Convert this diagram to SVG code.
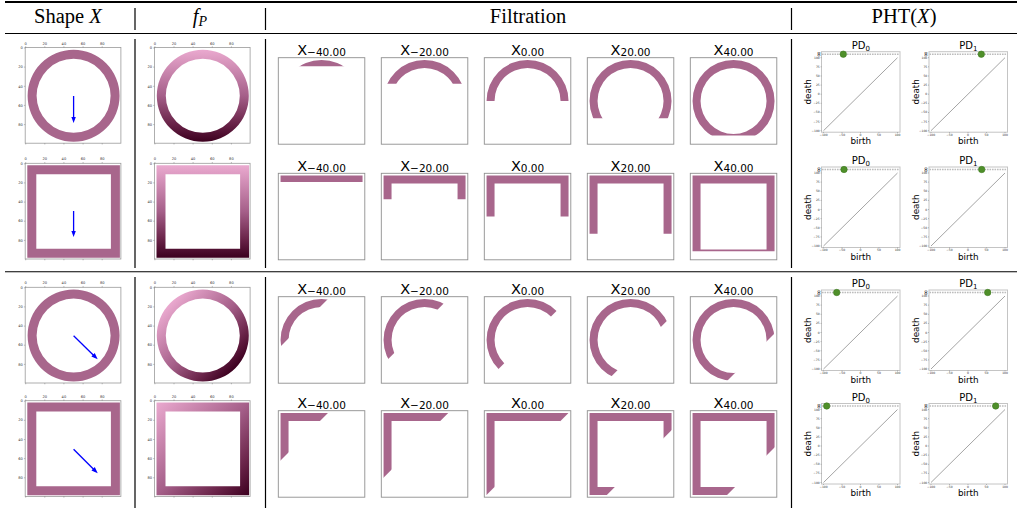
<svg xmlns="http://www.w3.org/2000/svg" xmlns:xlink="http://www.w3.org/1999/xlink" width="1019" height="508" viewBox="0 0 1019 508">
<style>
text{font-family:"DejaVu Sans","Liberation Sans",sans-serif;fill:#000}
.hdr{font-family:"Liberation Serif","DejaVu Serif",serif;font-size:20.5px;text-anchor:middle}
.it{font-style:italic}
.rule{stroke:#000;fill:none}
.ax{fill:#fff;stroke:#9a9a9a;stroke-width:0.8}
.tk{stroke:#666;stroke-width:0.4;fill:none}
.tl{font-size:3.6px;fill:#333;text-anchor:middle}
.tlr{font-size:3.6px;fill:#333;text-anchor:end}
.shape{fill:#a8668c}
.fb{fill:#fff;stroke:#8f8f8f;stroke-width:0.9}
.ft{font-size:14.5px;text-anchor:middle}
.fs{font-size:10.5px}
.pdbox{fill:#fff;stroke:#c4c4c4;stroke-width:1}
.inf{stroke:#bdbdbd;stroke-width:1.4;stroke-dasharray:1.6 0.9}
.diag{stroke:#666;stroke-width:0.6}
.pt{fill:#4f8f2a;stroke:#3d7a1e;stroke-width:0.6}
.pdt{font-size:10px;text-anchor:middle}
.pds{font-size:7px}
.lab{font-size:8.8px;text-anchor:middle}
.pyl{font-size:3px;fill:#333;text-anchor:end}
.pxl{font-size:3px;fill:#333;text-anchor:middle}
.infl{font-size:7px;text-anchor:middle}
.arr{stroke:#0000ff;stroke-width:1.3;fill:none;marker-end:url(#ah)}
</style>
<defs>
<marker id="ah" markerUnits="userSpaceOnUse" markerWidth="7" markerHeight="6" refX="3.5" refY="3" orient="auto"><path d="M0,0.6 L6.5,3 L0,5.4 Z" fill="#0000ff"/></marker>
<path id="annF" fill-rule="evenodd" d="M-41,0a41,41 0 1,0 82,0a41,41 0 1,0 -82,0ZM-33,0a33,33 0 1,0 66,0a33,33 0 1,0 -66,0Z"/>
<path id="sqF" fill-rule="evenodd" d="M-41,-41H41V41H-41ZM-33,-33H33V33H-33Z"/>
<path id="annL" fill-rule="evenodd" d="M-46,0a46,46 0 1,0 92,0a46,46 0 1,0 -92,0ZM-37,0a37,37 0 1,0 74,0a37,37 0 1,0 -74,0Z"/>
<path id="sqL" fill-rule="evenodd" d="M-46.3,-46.3H46.3V46.3H-46.3ZM-37.3,-37.3H37.3V37.3H-37.3Z"/>
<linearGradient id="cm"><stop offset="0" stop-color="#eaa9cf"/><stop offset="0.5" stop-color="#a55f89"/><stop offset="0.8" stop-color="#6a2449"/><stop offset="1" stop-color="#3c001f"/></linearGradient>
<linearGradient id="gV" href="#cm" xlink:href="#cm" gradientUnits="userSpaceOnUse" x1="0" y1="-46" x2="0" y2="46"/>
<linearGradient id="gDc" href="#cm" xlink:href="#cm" gradientUnits="userSpaceOnUse" x1="-32.5" y1="-32.5" x2="32.5" y2="32.5"/>
<linearGradient id="gDs" href="#cm" xlink:href="#cm" gradientUnits="userSpaceOnUse" x1="-46.3" y1="-46.3" x2="46.3" y2="46.3"/>
<clipPath id="cv0" clipPathUnits="userSpaceOnUse"><rect x="-60" y="-60" width="120" height="25.4"/></clipPath>
<clipPath id="cv1" clipPathUnits="userSpaceOnUse"><rect x="-60" y="-60" width="120" height="42.7"/></clipPath>
<clipPath id="cv2" clipPathUnits="userSpaceOnUse"><rect x="-60" y="-60" width="120" height="60"/></clipPath>
<clipPath id="cv3" clipPathUnits="userSpaceOnUse"><rect x="-60" y="-60" width="120" height="77.3"/></clipPath>
<clipPath id="cv4" clipPathUnits="userSpaceOnUse"><rect x="-60" y="-60" width="120" height="94.6"/></clipPath>
<clipPath id="cd0" clipPathUnits="userSpaceOnUse"><polygon points="-200,-200 165.4,-200 -200,165.4"/></clipPath>
<clipPath id="cd1" clipPathUnits="userSpaceOnUse"><polygon points="-200,-200 182.7,-200 -200,182.7"/></clipPath>
<clipPath id="cd2" clipPathUnits="userSpaceOnUse"><polygon points="-200,-200 200,-200 -200,200"/></clipPath>
<clipPath id="cd3" clipPathUnits="userSpaceOnUse"><polygon points="-200,-200 217.3,-200 -200,217.3"/></clipPath>
<clipPath id="cd4" clipPathUnits="userSpaceOnUse"><polygon points="-200,-200 234.6,-200 -200,234.6"/></clipPath>
</defs>

<g id="table-rules">
<line class="rule" x1="5" y1="2" x2="1017" y2="2" stroke-width="1.8"/>
<line class="rule" x1="5" y1="33.5" x2="1017" y2="33.5" stroke-width="1.1"/>
<line class="rule" x1="5" y1="271.8" x2="1017" y2="271.8" stroke-width="1.1"/>
<path class="rule" stroke-width="1.2" d="M135,8V30M265.5,8V30M791.5,8V30M135,39V268M265.5,39V268M791.5,39V268M135,277V508M265.5,277V508M791.5,277V508"/>
</g>

<g id="header">
<text class="hdr" x="68" y="23">Shape <tspan class="it">X</tspan></text>
<text class="hdr" x="200" y="23"><tspan class="it">f</tspan><tspan class="it" font-size="14" dy="3">P</tspan></text>
<text class="hdr" x="528" y="23">Filtration</text>
<text class="hdr" x="904" y="23">PHT(<tspan class="it">X</tspan>)</text>
</g>

<!-- Shape X panels -->
<g id="shape-r1" transform="translate(0,47.5)">
<rect class="ax" x="25.2" y="0" width="95.7" height="95.7"/>
<g transform="translate(73.6,48.3)"><use href="#annL" xlink:href="#annL" class="shape"/></g>
<path class="tk" d="M25.7,0v-1.3M44.8,0v-1.3M63.9,0v-1.3M83.1,0v-1.3M102.2,0v-1.3M25.7,95.7v1.3M44.8,95.7v1.3M63.9,95.7v1.3M83.1,95.7v1.3M102.2,95.7v1.3M25.2,0.5h-1.3M25.2,19.6h-1.3M25.2,38.8h-1.3M25.2,57.9h-1.3M25.2,77.1h-1.3"/>
<text class="tl" x="25.7" y="-3">0</text><text class="tl" x="44.8" y="-3">20</text><text class="tl" x="63.9" y="-3">40</text><text class="tl" x="83.1" y="-3">60</text><text class="tl" x="102.2" y="-3">80</text>
<text class="tlr" x="22.8" y="1.7">0</text><text class="tlr" x="22.8" y="20.8">20</text><text class="tlr" x="22.8" y="40">40</text><text class="tlr" x="22.8" y="59.1">60</text><text class="tlr" x="22.8" y="78.3">80</text>
</g>
<g id="shape-r2" transform="translate(0,163.3)">
<rect class="ax" x="25.2" y="0" width="95.7" height="95.7"/>
<g transform="translate(73.6,48.2)"><use href="#sqL" xlink:href="#sqL" class="shape"/></g>
<path class="tk" d="M25.7,0v-1.3M44.8,0v-1.3M63.9,0v-1.3M83.1,0v-1.3M102.2,0v-1.3M25.7,95.7v1.3M44.8,95.7v1.3M63.9,95.7v1.3M83.1,95.7v1.3M102.2,95.7v1.3M25.2,0.5h-1.3M25.2,19.6h-1.3M25.2,38.8h-1.3M25.2,57.9h-1.3M25.2,77.1h-1.3"/>
<text class="tl" x="25.7" y="-3">0</text><text class="tl" x="44.8" y="-3">20</text><text class="tl" x="63.9" y="-3">40</text><text class="tl" x="83.1" y="-3">60</text><text class="tl" x="102.2" y="-3">80</text>
<text class="tlr" x="22.8" y="1.7">0</text><text class="tlr" x="22.8" y="20.8">20</text><text class="tlr" x="22.8" y="40">40</text><text class="tlr" x="22.8" y="59.1">60</text><text class="tlr" x="22.8" y="78.3">80</text>
</g>
<g id="shape-r3" transform="translate(0,287.3)">
<rect class="ax" x="25.2" y="0" width="95.7" height="95.7"/>
<g transform="translate(73.6,48.3)"><use href="#annL" xlink:href="#annL" class="shape"/></g>
<path class="tk" d="M25.7,0v-1.3M44.8,0v-1.3M63.9,0v-1.3M83.1,0v-1.3M102.2,0v-1.3M25.7,95.7v1.3M44.8,95.7v1.3M63.9,95.7v1.3M83.1,95.7v1.3M102.2,95.7v1.3M25.2,0.5h-1.3M25.2,19.6h-1.3M25.2,38.8h-1.3M25.2,57.9h-1.3M25.2,77.1h-1.3"/>
<text class="tl" x="25.7" y="-3">0</text><text class="tl" x="44.8" y="-3">20</text><text class="tl" x="63.9" y="-3">40</text><text class="tl" x="83.1" y="-3">60</text><text class="tl" x="102.2" y="-3">80</text>
<text class="tlr" x="22.8" y="1.7">0</text><text class="tlr" x="22.8" y="20.8">20</text><text class="tlr" x="22.8" y="40">40</text><text class="tlr" x="22.8" y="59.1">60</text><text class="tlr" x="22.8" y="78.3">80</text>
</g>
<g id="shape-r4" transform="translate(0,400.7)">
<rect class="ax" x="25.2" y="0" width="95.7" height="95.7"/>
<g transform="translate(73.6,48.2)"><use href="#sqL" xlink:href="#sqL" class="shape"/></g>
<path class="tk" d="M25.7,0v-1.3M44.8,0v-1.3M63.9,0v-1.3M83.1,0v-1.3M102.2,0v-1.3M25.7,95.7v1.3M44.8,95.7v1.3M63.9,95.7v1.3M83.1,95.7v1.3M102.2,95.7v1.3M25.2,0.5h-1.3M25.2,19.6h-1.3M25.2,38.8h-1.3M25.2,57.9h-1.3M25.2,77.1h-1.3"/>
<text class="tl" x="25.7" y="-3">0</text><text class="tl" x="44.8" y="-3">20</text><text class="tl" x="63.9" y="-3">40</text><text class="tl" x="83.1" y="-3">60</text><text class="tl" x="102.2" y="-3">80</text>
<text class="tlr" x="22.8" y="1.7">0</text><text class="tlr" x="22.8" y="20.8">20</text><text class="tlr" x="22.8" y="40">40</text><text class="tlr" x="22.8" y="59.1">60</text><text class="tlr" x="22.8" y="78.3">80</text>
</g>

<!-- f_P panels -->
<g id="fp-r1" transform="translate(129.2,47.5)">
<rect class="ax" x="25.2" y="0" width="95.7" height="95.7"/>
<g transform="translate(73.6,48.3)"><use href="#annL" xlink:href="#annL" style="fill:url(#gV)"/></g>
<path class="tk" d="M25.7,0v-1.3M44.8,0v-1.3M63.9,0v-1.3M83.1,0v-1.3M102.2,0v-1.3M25.7,95.7v1.3M44.8,95.7v1.3M63.9,95.7v1.3M83.1,95.7v1.3M102.2,95.7v1.3M25.2,0.5h-1.3M25.2,19.6h-1.3M25.2,38.8h-1.3M25.2,57.9h-1.3M25.2,77.1h-1.3"/>
<text class="tl" x="25.7" y="-3">0</text><text class="tl" x="44.8" y="-3">20</text><text class="tl" x="63.9" y="-3">40</text><text class="tl" x="83.1" y="-3">60</text><text class="tl" x="102.2" y="-3">80</text>
<text class="tlr" x="22.8" y="1.7">0</text><text class="tlr" x="22.8" y="20.8">20</text><text class="tlr" x="22.8" y="40">40</text><text class="tlr" x="22.8" y="59.1">60</text><text class="tlr" x="22.8" y="78.3">80</text>
</g>
<g id="fp-r2" transform="translate(129.2,163.3)">
<rect class="ax" x="25.2" y="0" width="95.7" height="95.7"/>
<g transform="translate(73.6,48.2)"><use href="#sqL" xlink:href="#sqL" style="fill:url(#gV)"/></g>
<path class="tk" d="M25.7,0v-1.3M44.8,0v-1.3M63.9,0v-1.3M83.1,0v-1.3M102.2,0v-1.3M25.7,95.7v1.3M44.8,95.7v1.3M63.9,95.7v1.3M83.1,95.7v1.3M102.2,95.7v1.3M25.2,0.5h-1.3M25.2,19.6h-1.3M25.2,38.8h-1.3M25.2,57.9h-1.3M25.2,77.1h-1.3"/>
<text class="tl" x="25.7" y="-3">0</text><text class="tl" x="44.8" y="-3">20</text><text class="tl" x="63.9" y="-3">40</text><text class="tl" x="83.1" y="-3">60</text><text class="tl" x="102.2" y="-3">80</text>
<text class="tlr" x="22.8" y="1.7">0</text><text class="tlr" x="22.8" y="20.8">20</text><text class="tlr" x="22.8" y="40">40</text><text class="tlr" x="22.8" y="59.1">60</text><text class="tlr" x="22.8" y="78.3">80</text>
</g>
<g id="fp-r3" transform="translate(129.2,287.3)">
<rect class="ax" x="25.2" y="0" width="95.7" height="95.7"/>
<g transform="translate(73.6,48.3)"><use href="#annL" xlink:href="#annL" style="fill:url(#gDc)"/></g>
<path class="tk" d="M25.7,0v-1.3M44.8,0v-1.3M63.9,0v-1.3M83.1,0v-1.3M102.2,0v-1.3M25.7,95.7v1.3M44.8,95.7v1.3M63.9,95.7v1.3M83.1,95.7v1.3M102.2,95.7v1.3M25.2,0.5h-1.3M25.2,19.6h-1.3M25.2,38.8h-1.3M25.2,57.9h-1.3M25.2,77.1h-1.3"/>
<text class="tl" x="25.7" y="-3">0</text><text class="tl" x="44.8" y="-3">20</text><text class="tl" x="63.9" y="-3">40</text><text class="tl" x="83.1" y="-3">60</text><text class="tl" x="102.2" y="-3">80</text>
<text class="tlr" x="22.8" y="1.7">0</text><text class="tlr" x="22.8" y="20.8">20</text><text class="tlr" x="22.8" y="40">40</text><text class="tlr" x="22.8" y="59.1">60</text><text class="tlr" x="22.8" y="78.3">80</text>
</g>
<g id="fp-r4" transform="translate(129.2,400.7)">
<rect class="ax" x="25.2" y="0" width="95.7" height="95.7"/>
<g transform="translate(73.6,48.2)"><use href="#sqL" xlink:href="#sqL" style="fill:url(#gDs)"/></g>
<path class="tk" d="M25.7,0v-1.3M44.8,0v-1.3M63.9,0v-1.3M83.1,0v-1.3M102.2,0v-1.3M25.7,95.7v1.3M44.8,95.7v1.3M63.9,95.7v1.3M83.1,95.7v1.3M102.2,95.7v1.3M25.2,0.5h-1.3M25.2,19.6h-1.3M25.2,38.8h-1.3M25.2,57.9h-1.3M25.2,77.1h-1.3"/>
<text class="tl" x="25.7" y="-3">0</text><text class="tl" x="44.8" y="-3">20</text><text class="tl" x="63.9" y="-3">40</text><text class="tl" x="83.1" y="-3">60</text><text class="tl" x="102.2" y="-3">80</text>
<text class="tlr" x="22.8" y="1.7">0</text><text class="tlr" x="22.8" y="20.8">20</text><text class="tlr" x="22.8" y="40">40</text><text class="tlr" x="22.8" y="59.1">60</text><text class="tlr" x="22.8" y="78.3">80</text>
</g>

<!-- Filtration panels -->
<g id="filt-r1-c1" transform="translate(278.3,57.7)"><text class="ft" x="43.25" y="-2.8">X<tspan class="fs" dy="1.5">−40.00</tspan></text><rect class="fb" width="86.5" height="86.5"/><g transform="translate(43.25,43.25)"><use href="#annF" xlink:href="#annF" class="shape" clip-path="url(#cv0)"/></g></g>
<g id="filt-r1-c2" transform="translate(381.3,57.7)"><text class="ft" x="43.25" y="-2.8">X<tspan class="fs" dy="1.5">−20.00</tspan></text><rect class="fb" width="86.5" height="86.5"/><g transform="translate(43.25,43.25)"><use href="#annF" xlink:href="#annF" class="shape" clip-path="url(#cv1)"/></g></g>
<g id="filt-r1-c3" transform="translate(484.3,57.7)"><text class="ft" x="43.25" y="-2.8">X<tspan class="fs" dy="1.5">0.00</tspan></text><rect class="fb" width="86.5" height="86.5"/><g transform="translate(43.25,43.25)"><use href="#annF" xlink:href="#annF" class="shape" clip-path="url(#cv2)"/></g></g>
<g id="filt-r1-c4" transform="translate(587.3,57.7)"><text class="ft" x="43.25" y="-2.8">X<tspan class="fs" dy="1.5">20.00</tspan></text><rect class="fb" width="86.5" height="86.5"/><g transform="translate(43.25,43.25)"><use href="#annF" xlink:href="#annF" class="shape" clip-path="url(#cv3)"/></g></g>
<g id="filt-r1-c5" transform="translate(690.3,57.7)"><text class="ft" x="43.25" y="-2.8">X<tspan class="fs" dy="1.5">40.00</tspan></text><rect class="fb" width="86.5" height="86.5"/><g transform="translate(43.25,43.25)"><use href="#annF" xlink:href="#annF" class="shape" clip-path="url(#cv4)"/></g></g>

<g id="filt-r2-c1" transform="translate(278.3,173.3)"><text class="ft" x="43.25" y="-2.8">X<tspan class="fs" dy="1.5">−40.00</tspan></text><rect class="fb" width="86.5" height="86.5"/><g transform="translate(43.25,43.25)"><use href="#sqF" xlink:href="#sqF" class="shape" clip-path="url(#cv0)"/></g></g>
<g id="filt-r2-c2" transform="translate(381.3,173.3)"><text class="ft" x="43.25" y="-2.8">X<tspan class="fs" dy="1.5">−20.00</tspan></text><rect class="fb" width="86.5" height="86.5"/><g transform="translate(43.25,43.25)"><use href="#sqF" xlink:href="#sqF" class="shape" clip-path="url(#cv1)"/></g></g>
<g id="filt-r2-c3" transform="translate(484.3,173.3)"><text class="ft" x="43.25" y="-2.8">X<tspan class="fs" dy="1.5">0.00</tspan></text><rect class="fb" width="86.5" height="86.5"/><g transform="translate(43.25,43.25)"><use href="#sqF" xlink:href="#sqF" class="shape" clip-path="url(#cv2)"/></g></g>
<g id="filt-r2-c4" transform="translate(587.3,173.3)"><text class="ft" x="43.25" y="-2.8">X<tspan class="fs" dy="1.5">20.00</tspan></text><rect class="fb" width="86.5" height="86.5"/><g transform="translate(43.25,43.25)"><use href="#sqF" xlink:href="#sqF" class="shape" clip-path="url(#cv3)"/></g></g>
<g id="filt-r2-c5" transform="translate(690.3,173.3)"><text class="ft" x="43.25" y="-2.8">X<tspan class="fs" dy="1.5">40.00</tspan></text><rect class="fb" width="86.5" height="86.5"/><g transform="translate(43.25,43.25)"><use href="#sqF" xlink:href="#sqF" class="shape" clip-path="url(#cv4)"/></g></g>

<g id="filt-r3-c1" transform="translate(278.3,296.7)"><text class="ft" x="43.25" y="-2.8">X<tspan class="fs" dy="1.5">−40.00</tspan></text><rect class="fb" width="86.5" height="86.5"/><g transform="translate(43.25,43.25)"><use href="#annF" xlink:href="#annF" class="shape" clip-path="url(#cd0)"/></g></g>
<g id="filt-r3-c2" transform="translate(381.3,296.7)"><text class="ft" x="43.25" y="-2.8">X<tspan class="fs" dy="1.5">−20.00</tspan></text><rect class="fb" width="86.5" height="86.5"/><g transform="translate(43.25,43.25)"><use href="#annF" xlink:href="#annF" class="shape" clip-path="url(#cd1)"/></g></g>
<g id="filt-r3-c3" transform="translate(484.3,296.7)"><text class="ft" x="43.25" y="-2.8">X<tspan class="fs" dy="1.5">0.00</tspan></text><rect class="fb" width="86.5" height="86.5"/><g transform="translate(43.25,43.25)"><use href="#annF" xlink:href="#annF" class="shape" clip-path="url(#cd2)"/></g></g>
<g id="filt-r3-c4" transform="translate(587.3,296.7)"><text class="ft" x="43.25" y="-2.8">X<tspan class="fs" dy="1.5">20.00</tspan></text><rect class="fb" width="86.5" height="86.5"/><g transform="translate(43.25,43.25)"><use href="#annF" xlink:href="#annF" class="shape" clip-path="url(#cd3)"/></g></g>
<g id="filt-r3-c5" transform="translate(690.3,296.7)"><text class="ft" x="43.25" y="-2.8">X<tspan class="fs" dy="1.5">40.00</tspan></text><rect class="fb" width="86.5" height="86.5"/><g transform="translate(43.25,43.25)"><use href="#annF" xlink:href="#annF" class="shape" clip-path="url(#cd4)"/></g></g>

<g id="filt-r4-c1" transform="translate(278.3,410.7)"><text class="ft" x="43.25" y="-2.8">X<tspan class="fs" dy="1.5">−40.00</tspan></text><rect class="fb" width="86.5" height="86.5"/><g transform="translate(43.25,43.25)"><use href="#sqF" xlink:href="#sqF" class="shape" clip-path="url(#cd0)"/></g></g>
<g id="filt-r4-c2" transform="translate(381.3,410.7)"><text class="ft" x="43.25" y="-2.8">X<tspan class="fs" dy="1.5">−20.00</tspan></text><rect class="fb" width="86.5" height="86.5"/><g transform="translate(43.25,43.25)"><use href="#sqF" xlink:href="#sqF" class="shape" clip-path="url(#cd1)"/></g></g>
<g id="filt-r4-c3" transform="translate(484.3,410.7)"><text class="ft" x="43.25" y="-2.8">X<tspan class="fs" dy="1.5">0.00</tspan></text><rect class="fb" width="86.5" height="86.5"/><g transform="translate(43.25,43.25)"><use href="#sqF" xlink:href="#sqF" class="shape" clip-path="url(#cd2)"/></g></g>
<g id="filt-r4-c4" transform="translate(587.3,410.7)"><text class="ft" x="43.25" y="-2.8">X<tspan class="fs" dy="1.5">20.00</tspan></text><rect class="fb" width="86.5" height="86.5"/><g transform="translate(43.25,43.25)"><use href="#sqF" xlink:href="#sqF" class="shape" clip-path="url(#cd3)"/></g></g>
<g id="filt-r4-c5" transform="translate(690.3,410.7)"><text class="ft" x="43.25" y="-2.8">X<tspan class="fs" dy="1.5">40.00</tspan></text><rect class="fb" width="86.5" height="86.5"/><g transform="translate(43.25,43.25)"><use href="#sqF" xlink:href="#sqF" class="shape" clip-path="url(#cd4)"/></g></g>

<!-- PHT panels -->
<g id="pd-r1-0" transform="translate(821.5,51.7)">
<text class="pdt" x="39.25" y="-2.7">PD<tspan class="pds" dy="1.8">0</tspan></text>
<rect class="pdbox" width="78.5" height="80.5"/>
<line class="inf" x1="0.5" y1="2.5" x2="78" y2="2.5"/><line class="diag" x1="2" y1="79" x2="76" y2="6"/>
<circle class="pt" cx="21.8" cy="2.5" r="3.2"/>
<path class="tk" d="M0,6h-1M0,15.1h-1M0,24.3h-1M0,33.4h-1M0,42.5h-1M0,51.6h-1M0,60.8h-1M0,69.9h-1M0,79h-1M2,80.5v1M20.5,80.5v1M39,80.5v1M57.5,80.5v1M76,80.5v1"/>
<text class="pyl" x="-1.8" y="7">100</text><text class="pyl" x="-1.8" y="16.1">75</text><text class="pyl" x="-1.8" y="25.3">50</text><text class="pyl" x="-1.8" y="34.4">25</text><text class="pyl" x="-1.8" y="43.5">0</text><text class="pyl" x="-1.8" y="52.6">−25</text><text class="pyl" x="-1.8" y="61.8">−50</text><text class="pyl" x="-1.8" y="70.9">−75</text><text class="pyl" x="-1.8" y="80">−100</text>
<text class="pxl" x="2" y="84.3">−100</text><text class="pxl" x="20.5" y="84.3">−50</text><text class="pxl" x="39" y="84.3">0</text><text class="pxl" x="57.5" y="84.3">50</text><text class="pxl" x="76" y="84.3">100</text>
<text class="infl" transform="translate(-0.8,2.5) rotate(-90)">∞</text>
<text class="lab" transform="translate(-10.5,40.2) rotate(-90)">death</text>
<text class="lab" x="39.25" y="92.5">birth</text>
</g>
<g id="pd-r1-1" transform="translate(929,51.7)">
<text class="pdt" x="39.25" y="-2.7">PD<tspan class="pds" dy="1.8">1</tspan></text>
<rect class="pdbox" width="78.5" height="80.5"/>
<line class="inf" x1="0.5" y1="2.5" x2="78" y2="2.5"/><line class="diag" x1="2" y1="79" x2="76" y2="6"/>
<circle class="pt" cx="52.3" cy="2.5" r="3.2"/>
<path class="tk" d="M0,6h-1M0,15.1h-1M0,24.3h-1M0,33.4h-1M0,42.5h-1M0,51.6h-1M0,60.8h-1M0,69.9h-1M0,79h-1M2,80.5v1M20.5,80.5v1M39,80.5v1M57.5,80.5v1M76,80.5v1"/>
<text class="pyl" x="-1.8" y="7">100</text><text class="pyl" x="-1.8" y="16.1">75</text><text class="pyl" x="-1.8" y="25.3">50</text><text class="pyl" x="-1.8" y="34.4">25</text><text class="pyl" x="-1.8" y="43.5">0</text><text class="pyl" x="-1.8" y="52.6">−25</text><text class="pyl" x="-1.8" y="61.8">−50</text><text class="pyl" x="-1.8" y="70.9">−75</text><text class="pyl" x="-1.8" y="80">−100</text>
<text class="pxl" x="2" y="84.3">−100</text><text class="pxl" x="20.5" y="84.3">−50</text><text class="pxl" x="39" y="84.3">0</text><text class="pxl" x="57.5" y="84.3">50</text><text class="pxl" x="76" y="84.3">100</text>
<text class="infl" transform="translate(-0.8,2.5) rotate(-90)">∞</text>
<text class="lab" transform="translate(-10.5,40.2) rotate(-90)">death</text>
<text class="lab" x="39.25" y="92.5">birth</text>
</g>
<g id="pd-r2-0" transform="translate(821.5,167)">
<text class="pdt" x="39.25" y="-2.7">PD<tspan class="pds" dy="1.8">0</tspan></text>
<rect class="pdbox" width="78.5" height="80.5"/>
<line class="inf" x1="0.5" y1="2.5" x2="78" y2="2.5"/><line class="diag" x1="2" y1="79" x2="76" y2="6"/>
<circle class="pt" cx="22.5" cy="2.5" r="3.2"/>
<path class="tk" d="M0,6h-1M0,15.1h-1M0,24.3h-1M0,33.4h-1M0,42.5h-1M0,51.6h-1M0,60.8h-1M0,69.9h-1M0,79h-1M2,80.5v1M20.5,80.5v1M39,80.5v1M57.5,80.5v1M76,80.5v1"/>
<text class="pyl" x="-1.8" y="7">100</text><text class="pyl" x="-1.8" y="16.1">75</text><text class="pyl" x="-1.8" y="25.3">50</text><text class="pyl" x="-1.8" y="34.4">25</text><text class="pyl" x="-1.8" y="43.5">0</text><text class="pyl" x="-1.8" y="52.6">−25</text><text class="pyl" x="-1.8" y="61.8">−50</text><text class="pyl" x="-1.8" y="70.9">−75</text><text class="pyl" x="-1.8" y="80">−100</text>
<text class="pxl" x="2" y="84.3">−100</text><text class="pxl" x="20.5" y="84.3">−50</text><text class="pxl" x="39" y="84.3">0</text><text class="pxl" x="57.5" y="84.3">50</text><text class="pxl" x="76" y="84.3">100</text>
<text class="infl" transform="translate(-0.8,2.5) rotate(-90)">∞</text>
<text class="lab" transform="translate(-10.5,40.2) rotate(-90)">death</text>
<text class="lab" x="39.25" y="92.5">birth</text>
</g>
<g id="pd-r2-1" transform="translate(929,167)">
<text class="pdt" x="39.25" y="-2.7">PD<tspan class="pds" dy="1.8">1</tspan></text>
<rect class="pdbox" width="78.5" height="80.5"/>
<line class="inf" x1="0.5" y1="2.5" x2="78" y2="2.5"/><line class="diag" x1="2" y1="79" x2="76" y2="6"/>
<circle class="pt" cx="52.7" cy="2.5" r="3.2"/>
<path class="tk" d="M0,6h-1M0,15.1h-1M0,24.3h-1M0,33.4h-1M0,42.5h-1M0,51.6h-1M0,60.8h-1M0,69.9h-1M0,79h-1M2,80.5v1M20.5,80.5v1M39,80.5v1M57.5,80.5v1M76,80.5v1"/>
<text class="pyl" x="-1.8" y="7">100</text><text class="pyl" x="-1.8" y="16.1">75</text><text class="pyl" x="-1.8" y="25.3">50</text><text class="pyl" x="-1.8" y="34.4">25</text><text class="pyl" x="-1.8" y="43.5">0</text><text class="pyl" x="-1.8" y="52.6">−25</text><text class="pyl" x="-1.8" y="61.8">−50</text><text class="pyl" x="-1.8" y="70.9">−75</text><text class="pyl" x="-1.8" y="80">−100</text>
<text class="pxl" x="2" y="84.3">−100</text><text class="pxl" x="20.5" y="84.3">−50</text><text class="pxl" x="39" y="84.3">0</text><text class="pxl" x="57.5" y="84.3">50</text><text class="pxl" x="76" y="84.3">100</text>
<text class="infl" transform="translate(-0.8,2.5) rotate(-90)">∞</text>
<text class="lab" transform="translate(-10.5,40.2) rotate(-90)">death</text>
<text class="lab" x="39.25" y="92.5">birth</text>
</g>
<g id="pd-r3-0" transform="translate(821.5,290)">
<text class="pdt" x="39.25" y="-2.7">PD<tspan class="pds" dy="1.8">0</tspan></text>
<rect class="pdbox" width="78.5" height="80.5"/>
<line class="inf" x1="0.5" y1="2.5" x2="78" y2="2.5"/><line class="diag" x1="2" y1="79" x2="76" y2="6"/>
<circle class="pt" cx="15.2" cy="2.5" r="3.2"/>
<path class="tk" d="M0,6h-1M0,15.1h-1M0,24.3h-1M0,33.4h-1M0,42.5h-1M0,51.6h-1M0,60.8h-1M0,69.9h-1M0,79h-1M2,80.5v1M20.5,80.5v1M39,80.5v1M57.5,80.5v1M76,80.5v1"/>
<text class="pyl" x="-1.8" y="7">100</text><text class="pyl" x="-1.8" y="16.1">75</text><text class="pyl" x="-1.8" y="25.3">50</text><text class="pyl" x="-1.8" y="34.4">25</text><text class="pyl" x="-1.8" y="43.5">0</text><text class="pyl" x="-1.8" y="52.6">−25</text><text class="pyl" x="-1.8" y="61.8">−50</text><text class="pyl" x="-1.8" y="70.9">−75</text><text class="pyl" x="-1.8" y="80">−100</text>
<text class="pxl" x="2" y="84.3">−100</text><text class="pxl" x="20.5" y="84.3">−50</text><text class="pxl" x="39" y="84.3">0</text><text class="pxl" x="57.5" y="84.3">50</text><text class="pxl" x="76" y="84.3">100</text>
<text class="infl" transform="translate(-0.8,2.5) rotate(-90)">∞</text>
<text class="lab" transform="translate(-10.5,40.2) rotate(-90)">death</text>
<text class="lab" x="39.25" y="92.5">birth</text>
</g>
<g id="pd-r3-1" transform="translate(929,290)">
<text class="pdt" x="39.25" y="-2.7">PD<tspan class="pds" dy="1.8">1</tspan></text>
<rect class="pdbox" width="78.5" height="80.5"/>
<line class="inf" x1="0.5" y1="2.5" x2="78" y2="2.5"/><line class="diag" x1="2" y1="79" x2="76" y2="6"/>
<circle class="pt" cx="58.7" cy="2.5" r="3.2"/>
<path class="tk" d="M0,6h-1M0,15.1h-1M0,24.3h-1M0,33.4h-1M0,42.5h-1M0,51.6h-1M0,60.8h-1M0,69.9h-1M0,79h-1M2,80.5v1M20.5,80.5v1M39,80.5v1M57.5,80.5v1M76,80.5v1"/>
<text class="pyl" x="-1.8" y="7">100</text><text class="pyl" x="-1.8" y="16.1">75</text><text class="pyl" x="-1.8" y="25.3">50</text><text class="pyl" x="-1.8" y="34.4">25</text><text class="pyl" x="-1.8" y="43.5">0</text><text class="pyl" x="-1.8" y="52.6">−25</text><text class="pyl" x="-1.8" y="61.8">−50</text><text class="pyl" x="-1.8" y="70.9">−75</text><text class="pyl" x="-1.8" y="80">−100</text>
<text class="pxl" x="2" y="84.3">−100</text><text class="pxl" x="20.5" y="84.3">−50</text><text class="pxl" x="39" y="84.3">0</text><text class="pxl" x="57.5" y="84.3">50</text><text class="pxl" x="76" y="84.3">100</text>
<text class="infl" transform="translate(-0.8,2.5) rotate(-90)">∞</text>
<text class="lab" transform="translate(-10.5,40.2) rotate(-90)">death</text>
<text class="lab" x="39.25" y="92.5">birth</text>
</g>
<g id="pd-r4-0" transform="translate(821.5,403.5)">
<text class="pdt" x="39.25" y="-2.7">PD<tspan class="pds" dy="1.8">0</tspan></text>
<rect class="pdbox" width="78.5" height="80.5"/>
<line class="inf" x1="0.5" y1="2.5" x2="78" y2="2.5"/><line class="diag" x1="2" y1="79" x2="76" y2="6"/>
<circle class="pt" cx="5.2" cy="2.5" r="3.2"/>
<path class="tk" d="M0,6h-1M0,15.1h-1M0,24.3h-1M0,33.4h-1M0,42.5h-1M0,51.6h-1M0,60.8h-1M0,69.9h-1M0,79h-1M2,80.5v1M20.5,80.5v1M39,80.5v1M57.5,80.5v1M76,80.5v1"/>
<text class="pyl" x="-1.8" y="7">100</text><text class="pyl" x="-1.8" y="16.1">75</text><text class="pyl" x="-1.8" y="25.3">50</text><text class="pyl" x="-1.8" y="34.4">25</text><text class="pyl" x="-1.8" y="43.5">0</text><text class="pyl" x="-1.8" y="52.6">−25</text><text class="pyl" x="-1.8" y="61.8">−50</text><text class="pyl" x="-1.8" y="70.9">−75</text><text class="pyl" x="-1.8" y="80">−100</text>
<text class="pxl" x="2" y="84.3">−100</text><text class="pxl" x="20.5" y="84.3">−50</text><text class="pxl" x="39" y="84.3">0</text><text class="pxl" x="57.5" y="84.3">50</text><text class="pxl" x="76" y="84.3">100</text>
<text class="infl" transform="translate(-0.8,2.5) rotate(-90)">∞</text>
<text class="lab" transform="translate(-10.5,40.2) rotate(-90)">death</text>
<text class="lab" x="39.25" y="92.5">birth</text>
</g>
<g id="pd-r4-1" transform="translate(929,403.5)">
<text class="pdt" x="39.25" y="-2.7">PD<tspan class="pds" dy="1.8">1</tspan></text>
<rect class="pdbox" width="78.5" height="80.5"/>
<line class="inf" x1="0.5" y1="2.5" x2="78" y2="2.5"/><line class="diag" x1="2" y1="79" x2="76" y2="6"/>
<circle class="pt" cx="66.7" cy="2.5" r="3.2"/>
<path class="tk" d="M0,6h-1M0,15.1h-1M0,24.3h-1M0,33.4h-1M0,42.5h-1M0,51.6h-1M0,60.8h-1M0,69.9h-1M0,79h-1M2,80.5v1M20.5,80.5v1M39,80.5v1M57.5,80.5v1M76,80.5v1"/>
<text class="pyl" x="-1.8" y="7">100</text><text class="pyl" x="-1.8" y="16.1">75</text><text class="pyl" x="-1.8" y="25.3">50</text><text class="pyl" x="-1.8" y="34.4">25</text><text class="pyl" x="-1.8" y="43.5">0</text><text class="pyl" x="-1.8" y="52.6">−25</text><text class="pyl" x="-1.8" y="61.8">−50</text><text class="pyl" x="-1.8" y="70.9">−75</text><text class="pyl" x="-1.8" y="80">−100</text>
<text class="pxl" x="2" y="84.3">−100</text><text class="pxl" x="20.5" y="84.3">−50</text><text class="pxl" x="39" y="84.3">0</text><text class="pxl" x="57.5" y="84.3">50</text><text class="pxl" x="76" y="84.3">100</text>
<text class="infl" transform="translate(-0.8,2.5) rotate(-90)">∞</text>
<text class="lab" transform="translate(-10.5,40.2) rotate(-90)">death</text>
<text class="lab" x="39.25" y="92.5">birth</text>
</g>

<g id="connectors">
<line class="arr" x1="73.6" y1="96" x2="73.6" y2="120"/>
<line class="arr" x1="73.6" y1="211" x2="73.6" y2="234"/>
<line class="arr" x1="73.6" y1="335.7" x2="95.55" y2="357.2"/>
<line class="arr" x1="73.6" y1="449.3" x2="95.6" y2="471.2"/>
</g>
</svg>
